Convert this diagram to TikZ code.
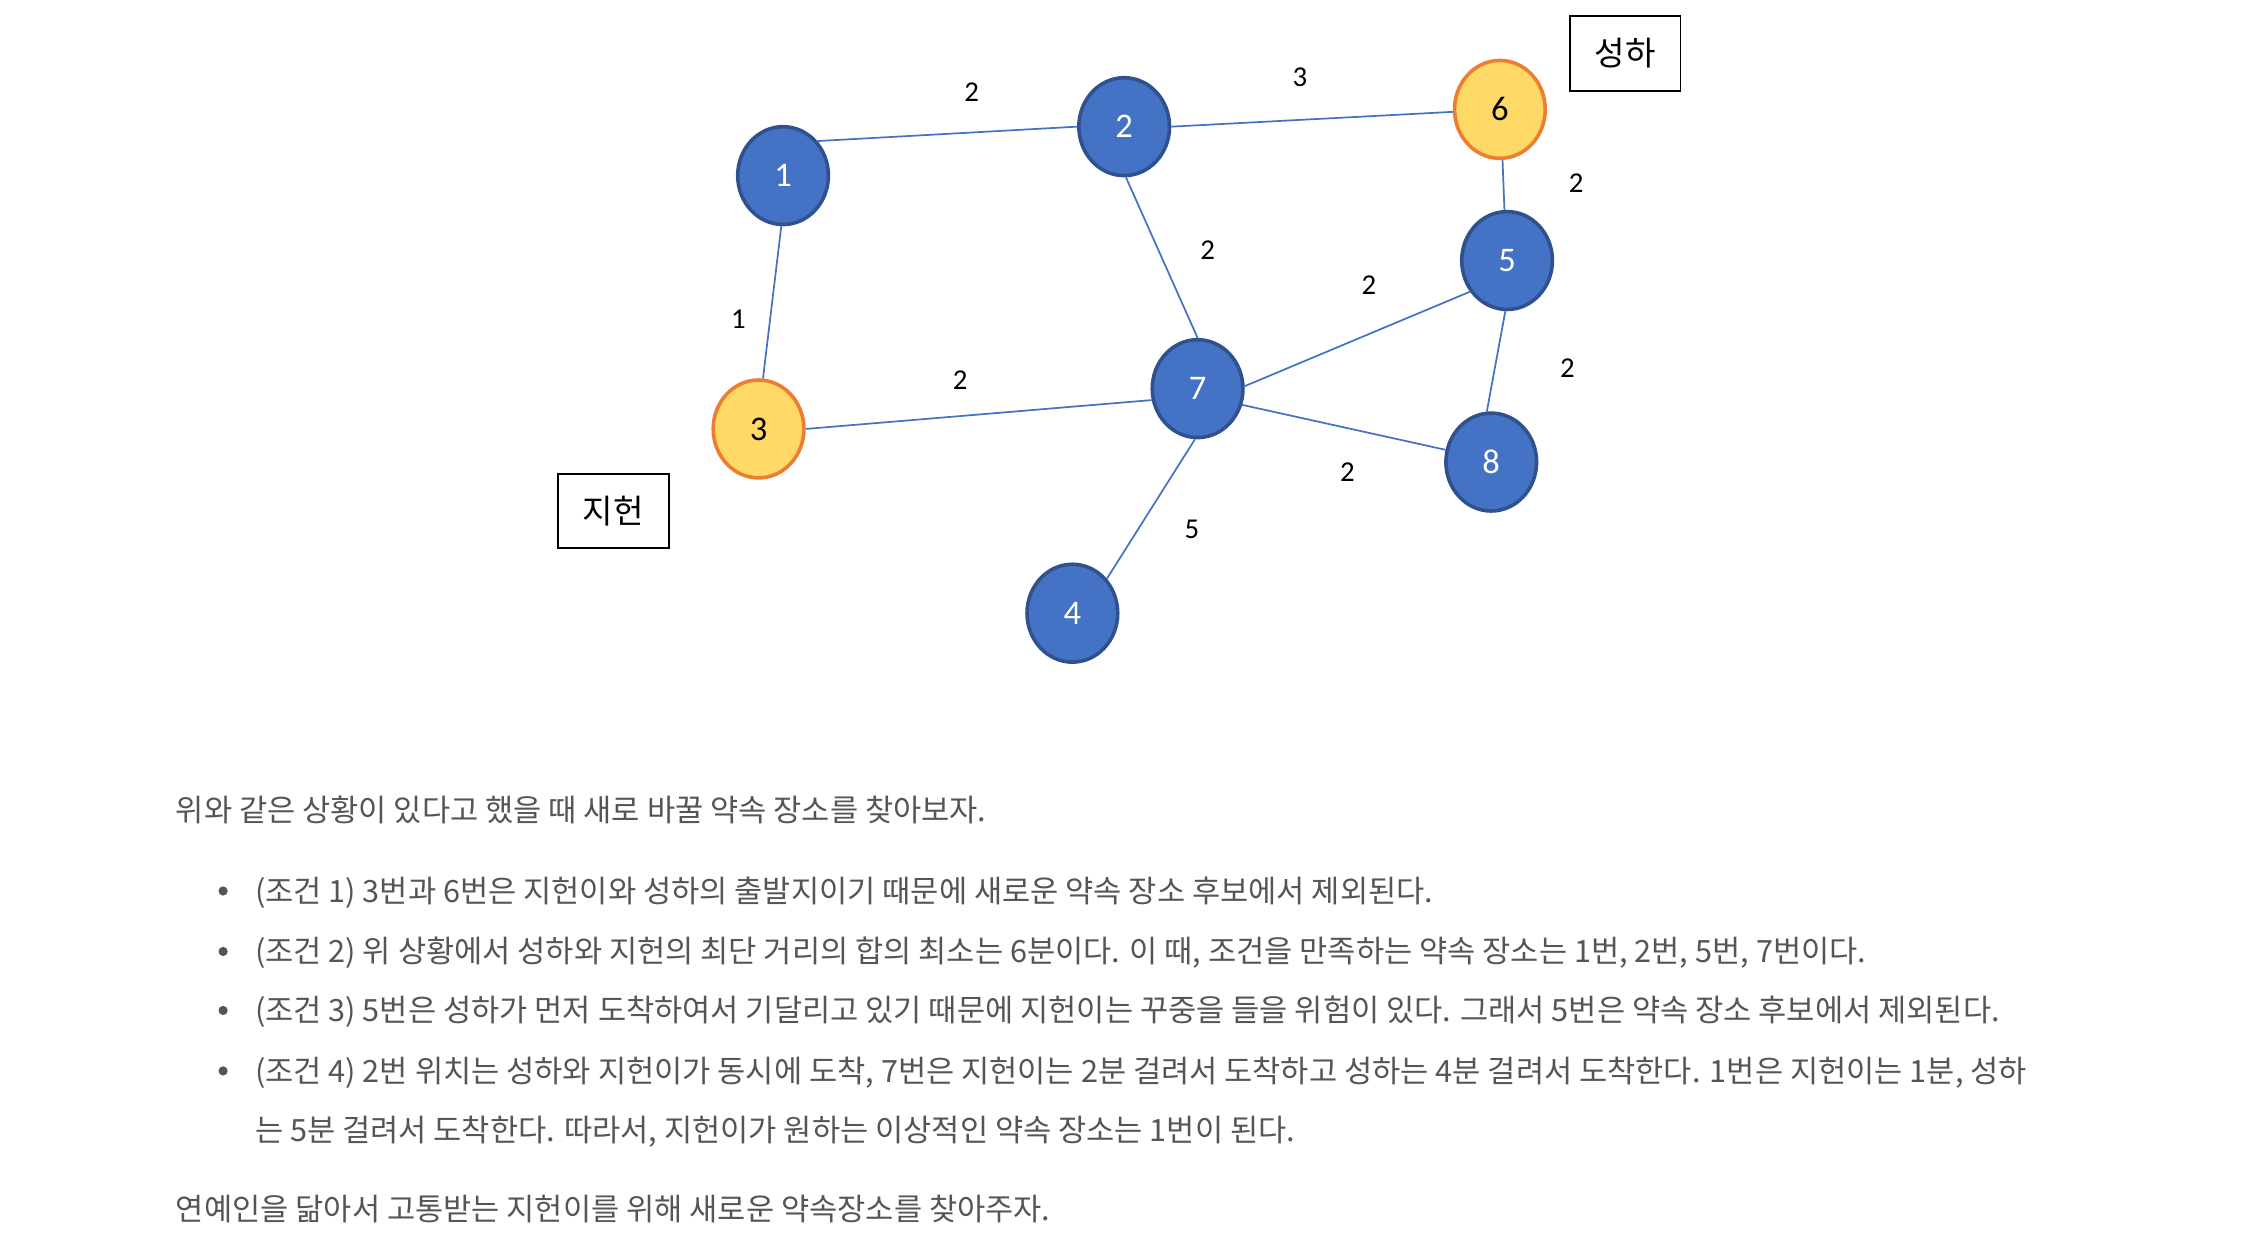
\documentclass[tikz,border=0pt]{standalone}
\usepackage{fontspec}
\setmainfont{Carlito}
\newfontfamily\kr{Noto Sans CJK KR}
\usetikzlibrary{shapes.geometric}
\definecolor{mBlue}{HTML}{4472C4}
\definecolor{mDarkBlue}{HTML}{2F528F}
\definecolor{mYellow}{HTML}{FFD966}
\definecolor{mOrange}{HTML}{ED7D31}
\definecolor{mText}{HTML}{555555}

\begin{document}
\begin{tikzpicture}[
  x=1pt, y=-1pt,
  vtx/.style={ellipse, draw=mDarkBlue, fill=mBlue, line width=2.5pt,
              minimum width=63pt, minimum height=68pt, inner sep=0pt,
              text=white, font=\fontsize{24}{24}\selectfont},
  start/.style={vtx, draw=mOrange, fill=mYellow, text=black},
  road/.style={draw=mBlue, line width=1.2pt},
  cost/.style={font=\fontsize{20}{20}\selectfont},
  who/.style={draw, line width=1.3pt, minimum width=77pt, minimum height=52pt,
              font=\kr\fontsize{23}{23}\selectfont},
  bodytxt/.style={anchor=base west, inner sep=0pt, text=mText,
                  font=\kr\fontsize{21.3}{21.3}\selectfont},
]
  \useasboundingbox (0,0) rectangle (1568,866);

  % places
  \node[vtx]   (n1) at (544,122) {1};
  \node[vtx]   (n2) at (781,88)  {2};
  \node[start] (n3) at (527,298) {3};
  \node[vtx]   (n4) at (745,426) {4};
  \node[vtx]   (n5) at (1047,181) {5};
  \node[start] (n6) at (1042,76) {6};
  \node[vtx]   (n7) at (832,270) {7};
  \node[vtx]   (n8) at (1036,321) {8};

  \node[who] (sh) at (1129,37)  {성하};
  \node[who] (jh) at (426,355)  {지헌};

  % roads with their minutes
  \foreach \a/\pa/\b/\pb/\w/\lx/\ly in {1/45/2/180/2/675/64, 2/0/6/183/3/903/54,
      6/-87/5/93/2/1095/127, 2/-88/7/90/2/839/174, 7/3/5/220/2/951/198,
      1/-92/3/85/1/513/222, 3/0/7/194/2/667/264, 5/-92/8/95/2/1089/256,
      7/-20/8/165/2/936/328, 7/-93/4/45/5/828/368} {
    \draw[road] (n\a.\pa) -- (n\b.\pb);
    \node[cost] (w\a\b) at (\lx,\ly) {\w};
  }

  % explanation
  \node[bodytxt] (t0) at (122,571) {위와 같은 상황이 있다고 했을 때 새로 바꿀 약속 장소를 찾아보자.};
  \foreach \y in {619,661,702,744} \fill[mText] (155,\y) circle (3.2);
  \node[bodytxt] (c1) at (177,627) {(조건 1) 3번과 6번은 지헌이와 성하의 출발지이기 때문에 새로운 약속 장소 후보에서 제외된다.};
  \node[bodytxt] (c2) at (177,669) {(조건 2) 위 상황에서 성하와 지헌의 최단 거리의 합의 최소는 6분이다. 이 때, 조건을 만족하는 약속 장소는 1번, 2번, 5번, 7번이다.};
  \node[bodytxt] (c3) at (177,710) {(조건 3) 5번은 성하가 먼저 도착하여서 기달리고 있기 때문에 지헌이는 꾸중을 들을 위험이 있다. 그래서 5번은 약속 장소 후보에서 제외된다.};
  \node[bodytxt] (c4) at (177,752) {(조건 4) 2번 위치는 성하와 지헌이가 동시에 도착, 7번은 지헌이는 2분 걸려서 도착하고 성하는 4분 걸려서 도착한다. 1번은 지헌이는 1분, 성하};
  \node[bodytxt] (c4b) at (177,793) {는 5분 걸려서 도착한다. 따라서, 지헌이가 원하는 이상적인 약속 장소는 1번이 된다.};
  \node[bodytxt] (t1) at (122,848) {연예인을 닮아서 고통받는 지헌이를 위해 새로운 약속장소를 찾아주자.};
\end{tikzpicture}
\end{document}
